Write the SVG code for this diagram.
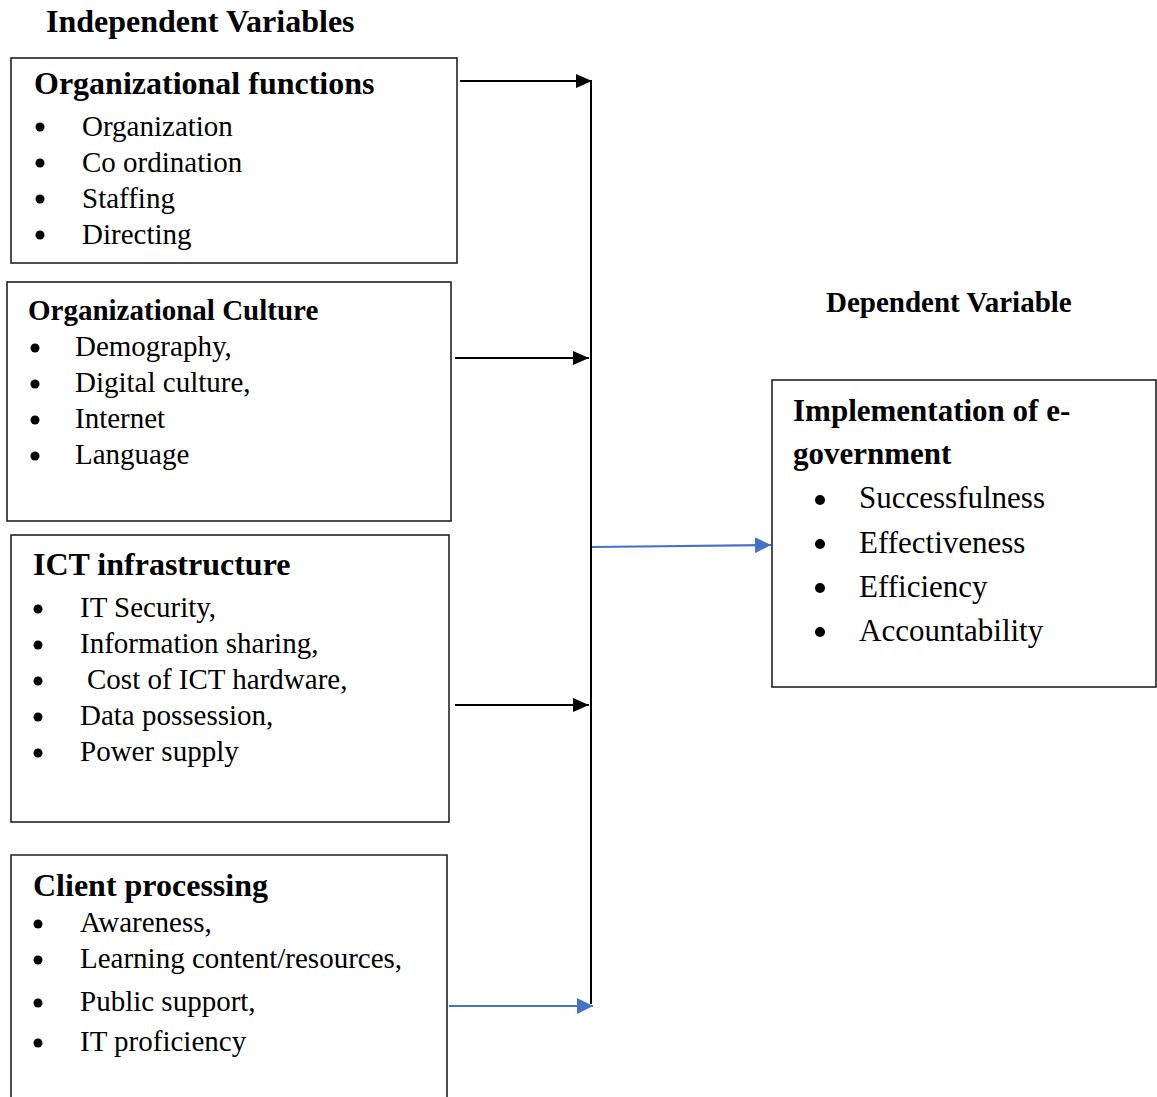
<svg xmlns="http://www.w3.org/2000/svg" width="1157" height="1097" viewBox="0 0 1157 1097">
<style>
text{font-family:"Liberation Serif","Times New Roman",serif;fill:#000}
.h{font-weight:bold;font-size:32px}
.hs{font-weight:bold;font-size:29px}
.i{font-size:29px}
.ir{font-size:31px}
.box{fill:#fff;stroke:#222;stroke-width:1.6}
.b{fill:#000}
.c{fill:none;stroke:#000;stroke-width:2}
.cb{fill:none;stroke:#4472C4;stroke-width:2.2}
</style>
<defs>
<marker id="ak" markerUnits="userSpaceOnUse" markerWidth="16" markerHeight="14" refX="16" refY="7" orient="auto"><path d="M0,0 L16,7 L0,14 Z" fill="#000"/></marker>
<marker id="ab" markerUnits="userSpaceOnUse" markerWidth="16" markerHeight="16" refX="16" refY="8" orient="auto"><path d="M0,0 L16,8 L0,16 Z" fill="#4472C4"/></marker>
</defs>
<rect width="1157" height="1097" fill="#fff"/>
<text id="lbl-independent" class="h" x="46" y="32">Independent Variables</text>
<text id="lbl-dependent" class="hs" x="826" y="312">Dependent Variable</text>

<g id="connectors">
<line class="c" x1="591" y1="82" x2="591" y2="1004"/>
<line class="c" x1="460" y1="81" x2="592" y2="81" marker-end="url(#ak)"/>
<line class="c" x1="455" y1="358" x2="589" y2="358" marker-end="url(#ak)"/>
<line class="c" x1="455" y1="705" x2="589" y2="705" marker-end="url(#ak)"/>
<line class="cb" x1="449" y1="1006" x2="593" y2="1006" marker-end="url(#ab)"/>
<line class="cb" x1="592" y1="547" x2="771" y2="545" marker-end="url(#ab)"/>
</g>

<g id="node-org-functions">
<rect class="box" x="11" y="58" width="446" height="205"/>
<text class="h" x="34" y="94">Organizational functions</text>
<circle class="b" cx="40" cy="127" r="4.5"/><text class="i" x="82" y="136">Organization</text>
<circle class="b" cx="40" cy="163" r="4.5"/><text class="i" x="82" y="172">Co ordination</text>
<circle class="b" cx="40" cy="199" r="4.5"/><text class="i" x="82" y="208">Staffing</text>
<circle class="b" cx="40" cy="235" r="4.5"/><text class="i" x="82" y="244">Directing</text>
</g>

<g id="node-org-culture">
<rect class="box" x="7" y="282" width="444" height="239"/>
<text class="hs" x="28" y="320">Organizational Culture</text>
<circle class="b" cx="35" cy="348" r="4.5"/><text class="i" x="75" y="356">Demography,</text>
<circle class="b" cx="35" cy="384" r="4.5"/><text class="i" x="75" y="392">Digital culture,</text>
<circle class="b" cx="35" cy="420" r="4.5"/><text class="i" x="75" y="428">Internet</text>
<circle class="b" cx="35" cy="456" r="4.5"/><text class="i" x="75" y="464">Language</text>
</g>

<g id="node-ict">
<rect class="box" x="11" y="535" width="438" height="287"/>
<text class="h" x="33" y="575">ICT infrastructure</text>
<circle class="b" cx="38" cy="609" r="4.5"/><text class="i" x="80" y="617">IT Security,</text>
<circle class="b" cx="38" cy="645" r="4.5"/><text class="i" x="80" y="653">Information sharing,</text>
<circle class="b" cx="38" cy="681" r="4.5"/><text class="i" x="87" y="689">Cost of ICT hardware,</text>
<circle class="b" cx="38" cy="717" r="4.5"/><text class="i" x="80" y="725">Data possession,</text>
<circle class="b" cx="38" cy="753" r="4.5"/><text class="i" x="80" y="761">Power supply</text>
</g>

<g id="node-client">
<path class="box" d="M11,1097 V855 H447 V1097"/>
<text class="h" x="33" y="896">Client processing</text>
<circle class="b" cx="38" cy="924" r="4.5"/><text class="i" x="80" y="932">Awareness,</text>
<circle class="b" cx="38" cy="960" r="4.5"/><text class="i" x="80" y="968">Learning content/resources,</text>
<circle class="b" cx="38" cy="1003" r="4.5"/><text class="i" x="80" y="1011">Public support,</text>
<circle class="b" cx="38" cy="1043" r="4.5"/><text class="i" x="80" y="1051">IT proficiency</text>
</g>

<g id="node-egov">
<rect class="box" x="772" y="380" width="384" height="307"/>
<text class="h" style="font-size:31px" x="793" y="421">Implementation of e-</text>
<text class="h" style="font-size:31px" x="793" y="464">government</text>
<circle class="b" cx="820" cy="500" r="5"/><text class="ir" x="859" y="508">Successfulness</text>
<circle class="b" cx="820" cy="544" r="5"/><text class="ir" x="859" y="553">Effectiveness</text>
<circle class="b" cx="820" cy="588" r="5"/><text class="ir" x="859" y="597">Efficiency</text>
<circle class="b" cx="820" cy="632" r="5"/><text class="ir" x="859" y="641">Accountability</text>
</g>
</svg>
